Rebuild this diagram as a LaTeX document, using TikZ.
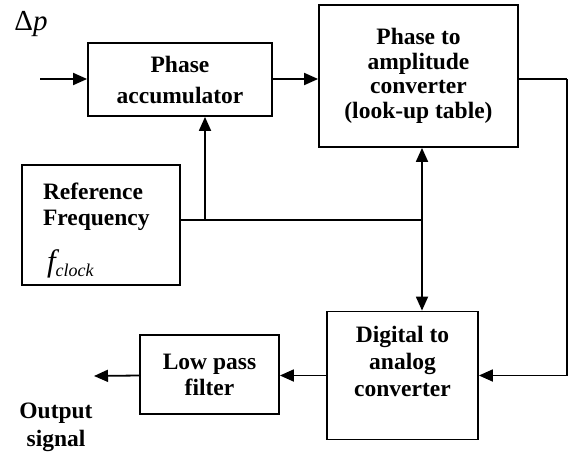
\documentclass[tikz,border=0pt]{standalone}
\usepackage{fontspec}
\setmainfont{Liberation Serif}
\usetikzlibrary{arrows.meta}
\begin{document}
\begin{tikzpicture}[x=1pt,y=-1pt,line width=1.8pt,>={Triangle[length=14pt,width=12pt]},
		block/.style={draw,align=center,inner sep=0pt,font=\fontsize{23.5}{26}\selectfont\bfseries}]
		\useasboundingbox (0,0) rectangle (573,452);
		\node[block,minimum width=184pt,minimum height=73pt] (acc) at (180,79.5) {Phase\\[5pt]accumulator};
		\node[block,minimum width=199pt,minimum height=142pt,font=\fontsize{23.5}{24.5}\selectfont\bfseries] (lut) at (418.5,76) {Phase to\\amplitude\\converter\\(look-up table)};
		\node[block,minimum width=158pt,minimum height=120pt,align=left,text width=116pt,inner xsep=21pt,text depth=67pt] (ref) at (101,225) {Reference\\Frequency\\[18pt]{\normalfont\fontsize{31}{31}\selectfont\hspace{4pt}\itshape f\fontsize{18}{18}\selectfont\raisebox{-5pt}{clock}}};
		\node[block,minimum width=151pt,minimum height=128pt,font=\fontsize{23.5}{27}\selectfont\bfseries,text depth=29pt] (dac) at (402.5,375.5) {Digital to\\analog\\converter};
		\node[block,minimum width=139pt,minimum height=79pt] (lpf) at (209.5,374.5) {Low pass\\filter};
		\node (dp) at (31,24) {\fontsize{29}{29}\selectfont Δ\textit{p}};
		\node[align=center,font=\fontsize{23.5}{28}\selectfont\bfseries] (out) at (56,427) {Output\\signal};
		\coordinate (in) at (40,79);
		\coordinate (fb) at (567,79);
		\coordinate (split) at (422,220);
		\coordinate (tap) at (205,220);
		\coordinate (outend) at (94,376);
		\draw[->] (in) -- (acc.west |- in);
		\draw[->] (acc.east |- in) -- (lut.west |- in);
		\draw (lut.east |- fb) -- (fb);
		\draw[->] (fb) |- (dac.east);
		\draw (ref.east |- split) -- (split);
		\draw[->] (tap) -- (acc.south -| tap);
		\draw[->] (split) -- (lut.south -| split);
		\draw[->] (split) -- (dac.north -| split);
		\draw[->] (dac.west) -- (lpf.east |- dac.west);
		\draw[->] (lpf.west |- dac.west) -- (outend);
	\end{tikzpicture}
\end{document}
